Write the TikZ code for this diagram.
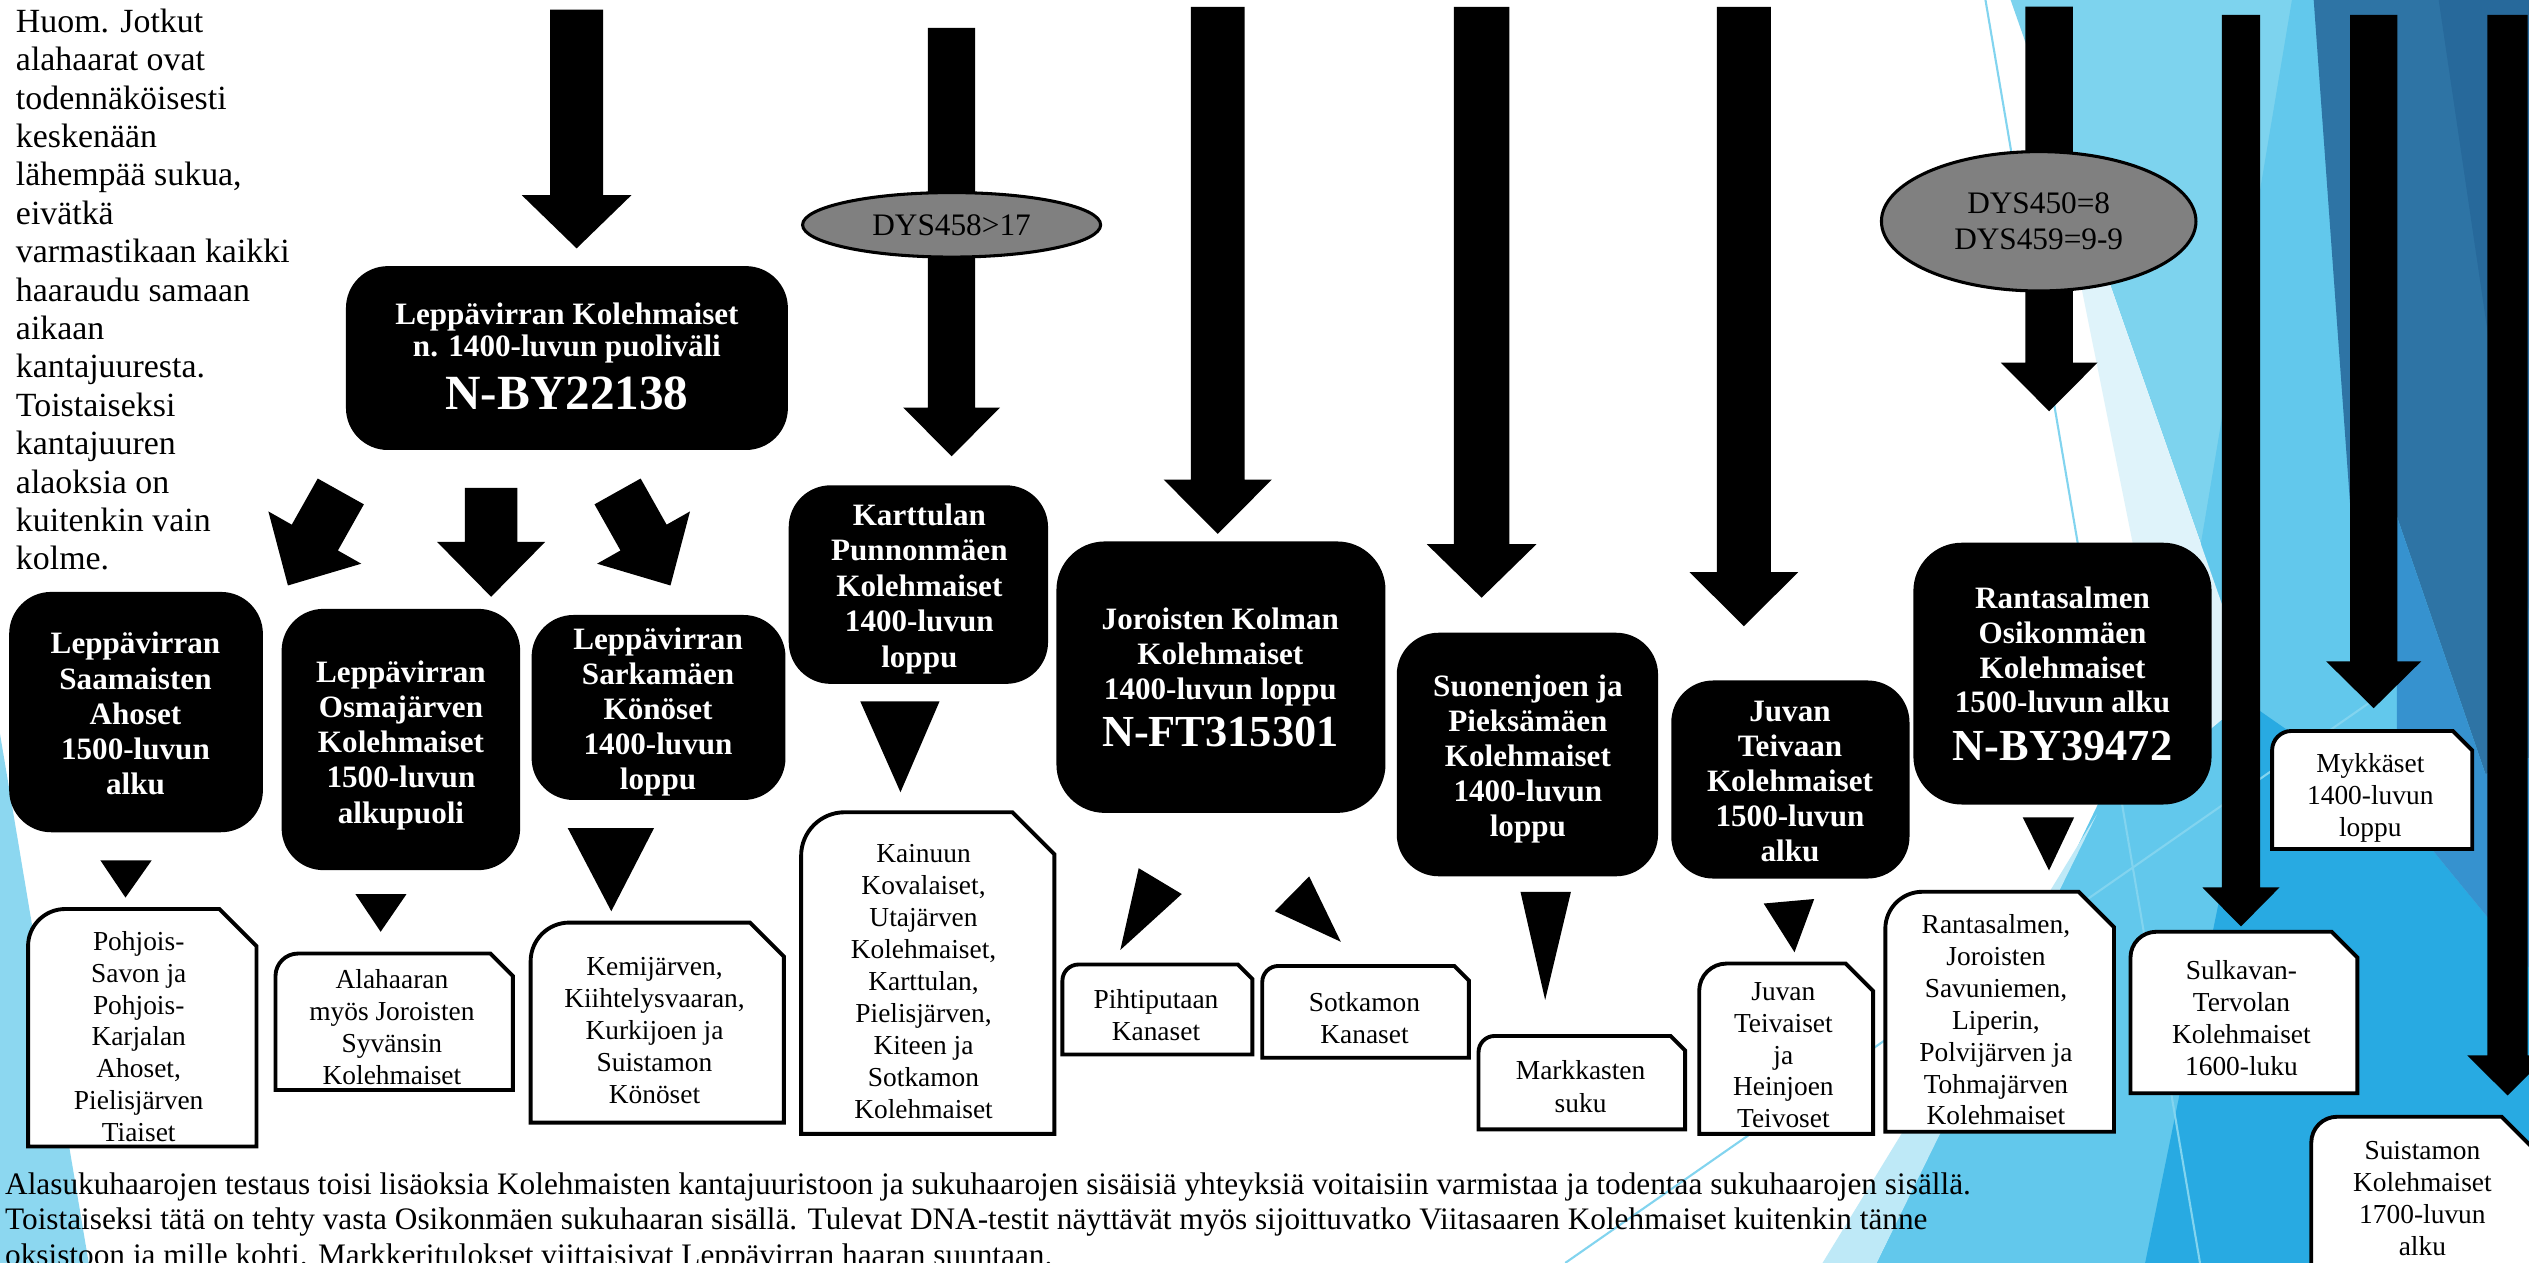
\documentclass[tikz,border=0pt]{standalone}
\usepackage{fontspec}
\setmainfont{Liberation Serif}
\usetikzlibrary{shapes.geometric}
\definecolor{bgcyan}{RGB}{125,211,238}
\definecolor{bgmed}{RGB}{98,200,236}
\definecolor{bgvlight}{RGB}{223,243,250}
\definecolor{bglight}{RGB}{190,233,247}
\definecolor{bgbright}{RGB}{40,170,226}
\definecolor{bgdark}{RGB}{46,116,165}
\definecolor{bgdarker}{RGB}{39,105,155}
\definecolor{bgmid}{RGB}{54,146,207}
\definecolor{bgleft}{RGB}{140,215,240}
\definecolor{bgline}{RGB}{130,212,239}
\definecolor{dysgray}{RGB}{128,128,128}

\newcommand\fl{\rule{0pt}{1em}}
\newcommand\kfont{\bfseries\fontsize{19.3}{21.8}\selectfont}
\newcommand\wfont{\fontsize{17}{19.8}\selectfont}
\newcommand\cfont{\bfseries\fontsize{27.5}{30}\selectfont}

\newcommand\blkarrow[6]{\fill[blk] ({#1-#3},#2) -- ({#1+#3},#2) -- ({#1+#3},#4) -- ({#1+#5},#4) -- (#1,#6) -- ({#1-#5},#4) -- ({#1-#3},#4) -- cycle;}
\newcommand\snipbox[7]{%
  \draw[wbox] (#2,#5) -- (#2,{#3+#6}) .. controls (#2,{#3+0.4477*#6}) and ({#2+0.4477*#6},#3) .. ({#2+#6},#3) -- ({#4-#7},#3) -- (#4,{#3+#7}) -- (#4,#5) -- cycle;
  \coordinate (#1) at ({(#2+#4)/2},{(#3+#5)/2});}

\tikzset{
  blackbox/.style={rectangle, rounded corners=26pt, fill=black, draw=none, inner sep=0pt},
  ktext/.style={anchor=north, align=center, inner sep=0pt, text=white, font=\kfont},
  ctext/.style={anchor=base, inner sep=0pt, text=white, font=\cfont},
  wbox/.style={draw=black, line width=2.4pt, fill=white},
  wtext/.style={anchor=north, align=center, inner sep=0pt, font=\wfont},
  blk/.style={fill=black},
  dys/.style={ellipse, draw=black, line width=1.9pt, fill=dysgray, inner sep=0pt, align=center, font=\fontsize{19.4}{22.7}\selectfont},
  bgl/.style={draw=bgline, line width=1.3pt},
}

\begin{document}
\begin{tikzpicture}[x=1pt,y=-1pt]
\useasboundingbox (0,0) rectangle (1568,783);
\clip (0,0) rectangle (1568,783);
\fill[white] (0,0) rectangle (1568,783);

% background decoration
\fill[bgleft] (0,455) -- (55,783) -- (0,783) -- cycle;
\fill[bgcyan] (1246.6,0) -- (1568,0) -- (1568,783) -- (1520.7,783) -- cycle;
\fill[bgmed] (1421,0) -- (1568,0) -- (1568,783) -- (1163.5,783) -- (1302,496) -- (1354,400) -- cycle;
\fill[bgvlight] (1266,56) -- (1349,470) -- (1397,430) -- cycle;
\fill[bglight] (1300,505) -- (1130,783) -- (1163.5,783) -- cycle;
\fill[bgbright] (1330,783) -- (1568,783) -- (1568,600) -- (1486,500) -- (1400,440) -- cycle;
\fill[bgdark] (1434.5,0) -- (1568,0) -- (1568,470) -- (1541,480) -- (1486,320) -- (1457.6,320) -- cycle;
\fill[bgdarker] (1512,0) -- (1568,0) -- (1568,380) -- cycle;
\fill[bgmid] (1486,320) -- (1541,480) -- (1568,470) -- (1568,600) -- (1486,500) -- cycle;
\draw[bgl] (1231,0) -- (1364,783);
\draw[bgl] (970.5,783) -- (1470,435);

% note texts
\node[anchor=north west, align=left, inner sep=0pt, font=\fontsize{21}{23.8}\selectfont] (note) at (9.7,-1.1)
 {\fl Huom. Jotkut\\alahaarat ovat\\todennäköisesti\\keskenään\\lähempää sukua,\\eivätkä\\varmastikaan kaikki\\haaraudu samaan\\aikaan\\kantajuuresta.\\Toistaiseksi\\kantajuuren\\alaoksia on\\kuitenkin vain\\kolme.};
\node[anchor=north west, align=left, inner sep=0pt, font=\fontsize{19.4}{21.8}\selectfont] (bottom) at (3,721.2)
 {\fl Alasukuhaarojen testaus toisi lisäoksia Kolehmaisten kantajuuristoon ja sukuhaarojen sisäisiä yhteyksiä voitaisiin varmistaa ja todentaa sukuhaarojen sisällä.\\Toistaiseksi tätä on tehty vasta Osikonmäen sukuhaaran sisällä. Tulevat DNA-testit näyttävät myös sijoittuvatko Viitasaaren Kolehmaiset kuitenkin tänne\\oksistoon ja mille kohti. Markkeritulokset viittaisivat Leppävirran haaran suuntaan.};

% block arrows
\blkarrow{357.5}{6}{16.5}{121}{34}{154}
\blkarrow{304.5}{302.5}{16.3}{336}{33.5}{370}
\fill[blk] (197.0,296.7) -- (225.6,312.7) -- (209.5,341.3) -- (224.0,349.5) -- (178.5,363.0) -- (166.4,317.1) -- (180.9,325.3) -- cycle;
\fill[blk] (397.2,296.7) -- (368.6,312.7) -- (384.7,341.3) -- (370.2,349.5) -- (415.7,363.0) -- (427.8,317.1) -- (413.3,325.3) -- cycle;
\blkarrow{590}{17.3}{14.65}{252.7}{30}{282.9}
\blkarrow{755}{4.3}{16.6}{297.3}{33.6}{331}
\blkarrow{918.6}{4.3}{17.2}{337.4}{34}{370.6}
\blkarrow{1081.2}{4.3}{16.75}{354.7}{33.7}{388.3}
\blkarrow{1270.5}{4.1}{14.7}{224.8}{30}{255}
\blkarrow{1389.4}{9.3}{11.9}{550.1}{24}{574.4}
\blkarrow{1471.7}{9.3}{14.7}{410}{29.5}{439.1}
\blkarrow{1554.7}{9.3}{12.5}{654.4}{25}{679.2}

% small triangles
\fill[blk] (62.3,533.5) -- (94,533.5) -- (77.8,556.5) -- cycle;
\fill[blk] (220.4,554.4) -- (252,554.4) -- (236,577.7) -- cycle;
\fill[blk] (352,513.4) -- (405.5,513.4) -- (379,565) -- cycle;
\fill[blk] (533.4,434.9) -- (582.5,434.9) -- (558.3,491.2) -- cycle;
\fill[blk] (706,538.3) -- (732.7,554.3) -- (694.6,589) -- cycle;
\fill[blk] (811.7,543.4) -- (790.4,565) -- (831.3,583.9) -- cycle;
\fill[blk] (942.7,552.9) -- (974,552.9) -- (958,620) -- cycle;
\fill[blk] (1093.5,560.2) -- (1124.8,557.4) -- (1112.6,590.4) -- cycle;
\fill[blk] (1254.1,506.7) -- (1286,506.7) -- (1270.4,539.7) -- cycle;

% ellipses
\node[dys, minimum width=184.8pt, minimum height=40pt] (e1) at (590,139.4) {DYS458>17};
\node[dys, minimum width=195pt, minimum height=86.4pt] (e2) at (1264,137.2) {DYS450=8\\DYS459=9-9};

% black boxes
\node[blackbox, minimum width=274pt, minimum height=114pt] (k0) at (351.5,222) {};
\node[ktext, font=\bfseries\fontsize{19.3}{20.2}\selectfont] (k0t) at (351.5,181.6) {\fl Leppävirran Kolehmaiset\\n. 1400-luvun puoliväli};
\node[ctext, font=\bfseries\fontsize{30.5}{33}\selectfont] (k0c) at (351.5,254) {N-BY22138};

\node[blackbox, minimum width=157.3pt, minimum height=149pt] (k1) at (84.35,441.5) {};
\node[ktext] (k1t) at (84,385.9) {\fl Leppävirran\\Saamaisten\\Ahoset\\1500-luvun\\alku};

\node[blackbox, minimum width=147.9pt, minimum height=162pt] (k2) at (248.55,458.5) {};
\node[ktext] (k2t) at (248.6,403.6) {\fl Leppävirran\\Osmajärven\\Kolehmaiset\\1500-luvun\\alkupuoli};

\node[blackbox, minimum width=157.4pt, minimum height=114.7pt] (k3) at (408.3,438.65) {};
\node[ktext] (k3t) at (408,383.1) {\fl Leppävirran\\Sarkamäen\\Könöset\\1400-luvun\\loppu};

\node[blackbox, minimum width=160.8pt, minimum height=123.1pt] (k4) at (569.4,362.45) {};
\node[ktext, font=\bfseries\fontsize{19.3}{22}\selectfont] (k4t) at (570,306.2) {\fl Karttulan\\Punnonmäen\\Kolehmaiset\\1400-luvun\\loppu};

\node[blackbox, minimum width=204pt, minimum height=168.3pt, rounded corners=30pt] (k5) at (757,419.85) {};
\node[ktext, font=\bfseries\fontsize{19.3}{21.6}\selectfont] (k5t) at (756.6,370.9) {\fl Joroisten Kolman\\Kolehmaiset\\1400-luvun loppu};
\node[ctext] (k5c) at (756.6,462.7) {N-FT315301};

\node[blackbox, minimum width=162pt, minimum height=151pt] (k6) at (947,467.8) {};
\node[ktext] (k6t) at (947.3,412.1) {\fl Suonenjoen ja\\Pieksämäen\\Kolehmaiset\\1400-luvun\\loppu};

\node[blackbox, minimum width=147.7pt, minimum height=122.8pt] (k7) at (1110.05,483.3) {};
\node[ktext, font=\bfseries\fontsize{19.3}{21.65}\selectfont] (k7t) at (1109.8,428.1) {\fl Juvan\\Teivaan\\Kolehmaiset\\1500-luvun\\alku};

\node[blackbox, minimum width=184.9pt, minimum height=162.3pt, rounded corners=30pt] (k8) at (1278.75,417.65) {};
\node[ktext, font=\bfseries\fontsize{19.3}{21.6}\selectfont] (k8t) at (1278.8,357.7) {\fl Rantasalmen\\Osikonmäen\\Kolehmaiset\\1500-luvun alku};
\node[ctext] (k8c) at (1278.8,471.8) {N-BY39472};

% white snip boxes
\snipbox{w1}{17.4}{563.6}{159}{710.8}{23}{23}
\node[wtext] (w1t) at (86,571.9) {\fl Pohjois-\\Savon ja\\Pohjois-\\Karjalan\\Ahoset,\\Pielisjärven\\Tiaiset};
\snipbox{w2}{170.8}{591.2}{318}{675.8}{14}{14}
\node[wtext] (w2t) at (243,595.9) {\fl Alahaaran\\myös Joroisten\\Syvänsin\\Kolehmaiset};
\snipbox{w3}{329}{572}{486}{696}{24}{21}
\node[wtext] (w3t) at (405.8,587.6) {\fl Kemijärven,\\Kiihtelysvaaran,\\Kurkijoen ja\\Suistamon\\Könöset};
\snipbox{w4}{496.7}{503.6}{653.7}{703}{27}{26}
\node[wtext] (w4t) at (572.6,517.8) {\fl Kainuun\\Kovalaiset,\\Utajärven\\Kolehmaiset,\\Karttulan,\\Pielisjärven,\\Kiteen ja\\Sotkamon\\Kolehmaiset};
\snipbox{w5}{658.7}{598}{776.5}{653.8}{10}{9}
\node[wtext] (w5t) at (716.7,608) {\fl Pihtiputaan\\Kanaset};
\snipbox{w6}{782.6}{598.9}{910.7}{655.8}{10}{9}
\node[wtext] (w6t) at (846,610) {\fl Sotkamon\\Kanaset};
\snipbox{w7}{916.7}{642.3}{1044.8}{700.2}{10}{9}
\node[wtext, font=\fontsize{17}{20.6}\selectfont] (w7t) at (980,652) {\fl Markkasten\\suku};
\snipbox{w8}{1053.5}{597.4}{1161.3}{703}{17}{17}
\node[wtext] (w8t) at (1105.7,602.9) {\fl Juvan\\Teivaiset\\ja\\Heinjoen\\Teivoset};
\snipbox{w9}{1168.9}{552.9}{1310.7}{701.7}{23}{22}
\node[wtext] (w9t) at (1237.5,561.5) {\fl Rantasalmen,\\Joroisten\\Savuniemen,\\Liperin,\\Polvijärven ja\\Tohmajärven\\Kolehmaiset};
\snipbox{w10}{1320.9}{577.7}{1461.6}{677.8}{16}{16}
\node[wtext] (w10t) at (1389.7,590.3) {\fl Sulkavan-\\Tervolan\\Kolehmaiset\\1600-luku};
\snipbox{w11}{1408.7}{453.2}{1532.8}{526.4}{12}{12}
\node[wtext] (w11t) at (1469.6,462) {\fl Mykkäset\\1400-luvun\\loppu};
\snipbox{w12}{1433}{692.4}{1571}{800}{16}{20}
\node[wtext] (w12t) at (1501.9,701.6) {\fl Suistamon\\Kolehmaiset\\1700-luvun\\alku};
\end{tikzpicture}
\end{document}
